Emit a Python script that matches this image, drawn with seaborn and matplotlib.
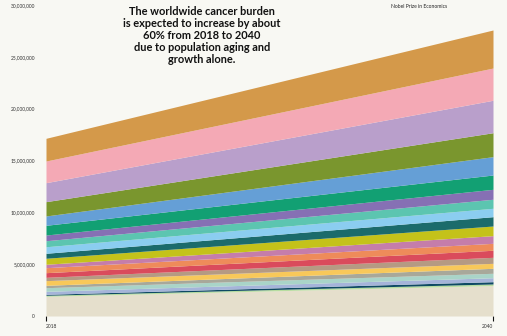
import numpy as np
import matplotlib
matplotlib.use("Agg")
import matplotlib.pyplot as plt
from matplotlib.ticker import FuncFormatter
import seaborn as sns

# Projected new cancer cases per site (millions), stacked bottom to top
years = [2018, 2040]
cases_2018 = [1.90, 0.10, 0.09, 0.29, 0.35, 0.23, 0.45, 0.32, 0.45, 0.48, 0.33,
              0.58, 0.48, 0.63, 0.58, 0.55, 0.94, 0.90, 1.38, 1.83, 2.09, 2.19]
cases_2040 = [2.94, 0.15, 0.22, 0.38, 0.43, 0.48, 0.48, 0.58, 0.68, 0.67, 0.74,
              0.93, 0.90, 0.81, 0.87, 0.96, 1.38, 1.77, 2.31, 3.13, 3.11, 3.67]
band_colors = ["#E5DFCC", "#B7DDA0", "#0E4A63", "#A5B4D9", "#A9D4C8", "#A8A89A",
               "#F8C85A", "#B59A83", "#DA4B5C", "#EE8B5A", "#C57DAA", "#C4C21A",
               "#1B6B6B", "#8BCDF0", "#5CC5B0", "#8670B4", "#12A073", "#659FD6",
               "#7A962E", "#B99FCB", "#F4A9B5", "#D4994A"]
y_ticks = [0, 5_000_000, 10_000_000, 15_000_000, 20_000_000, 25_000_000, 30_000_000]
title = ("The worldwide cancer burden\nis expected to increase by about\n"
         "60% from 2018 to 2040\ndue to population aging and\ngrowth alone.")
credit = "Nobel Prize in Economics"

bg = "#F8F8F3"
sns.set_theme(style="white", rc={"figure.facecolor": bg, "axes.facecolor": bg})
plt.rcParams["font.family"] = ["Lato", "DejaVu Sans"]
palette = sns.color_palette(band_colors)

fig = plt.figure(figsize=(5.07, 3.36), dpi=100)
ax = fig.add_axes([46 / 507, 20 / 336, 447 / 507, 311 / 336])

series = [np.array([a, b]) * 1e6 for a, b in zip(cases_2018, cases_2040)]
ax.stackplot(years, *series, colors=palette, linewidth=0)

ax.set_xlim(years[0], years[1])
ax.set_ylim(0, 30_000_000)
ax.set_yticks(y_ticks)
ax.yaxis.set_major_formatter(FuncFormatter(lambda v, _: f"{int(v):,}"))
ax.set_xticks(years)
ax.set_xticklabels([str(y) for y in years])
for lbl, ha in zip(ax.get_xticklabels(), ["left", "right"]):
    lbl.set_horizontalalignment(ha)

ax.tick_params(axis="y", length=0, pad=8, labelsize=3.5, labelcolor="#333333")
ax.tick_params(axis="x", length=3.5, width=0.8, color="#111111", pad=2,
               labelsize=3.5, labelcolor="#333333", bottom=True, direction="out")
for s in ax.spines.values():
    s.set_visible(False)

fig.text(202 / 507, 1 - 6 / 336, title, ha="center", va="top", fontsize=7.9,
         fontweight="bold", color="#111111", linespacing=1.1)
fig.text(391 / 507, 1 - 6 / 336, credit, ha="left", va="center", fontsize=3.6,
         color="#222222")

fig.savefig("out.png", dpi=100, facecolor=bg)
